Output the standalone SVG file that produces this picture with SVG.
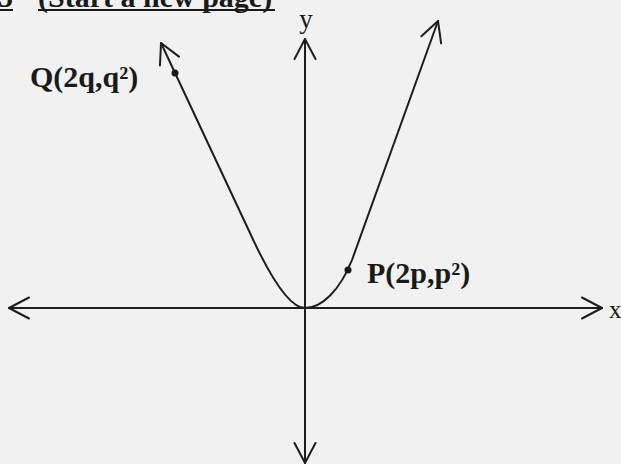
<svg xmlns="http://www.w3.org/2000/svg" width="621" height="464" viewBox="0 0 621 464">
<style>
.ln{fill:none;stroke:#1e1e1e;stroke-width:2;stroke-linecap:round;stroke-linejoin:round}
.lbl{font-family:"Liberation Serif","Times New Roman",serif;font-weight:bold;fill:#1a1a1a}
.ax{font-family:"Liberation Serif","Times New Roman",serif;fill:#1a1a1a}
.dot{fill:#1a1a1a}
</style>
<defs>
<marker id="arr" markerUnits="userSpaceOnUse" viewBox="-25 -14 30 28" refX="0" refY="0" markerWidth="30" markerHeight="28" orient="auto-start-reverse" overflow="visible">
<path d="M-20,-10.5 L0,0 L-20,10.5" fill="none" stroke="#1e1e1e" stroke-width="2" stroke-linecap="round" stroke-linejoin="round"/>
</marker>
</defs>
<rect width="621" height="464" fill="#f1f1f1"/>
<g id="title">
<text class="lbl" x="-2" y="7" font-size="30">5</text>
<line x1="0" y1="10" x2="13" y2="10" stroke="#1a1a1a" stroke-width="2"/>
<text class="lbl" x="38" y="7" font-size="30">(Start a new page)</text>
<line x1="38" y1="10" x2="275" y2="10" stroke="#1a1a1a" stroke-width="2"/>
</g>
<g id="connectors">
<line id="x-axis" class="ln" x1="9" y1="308" x2="602" y2="308" marker-start="url(#arr)" marker-end="url(#arr)"/>
<line id="y-axis" class="ln" x1="305" y1="39" x2="305" y2="463" marker-start="url(#arr)" marker-end="url(#arr)"/>
<path id="parabola" class="ln" d="M161,43 L250,233 C266,268 288,308 305,308 C322,308 340,290 352,260 L438,21" marker-start="url(#arr)" marker-end="url(#arr)"/>
</g>
<g id="axis-x-label"><text class="ax" x="609" y="318" font-size="25">x</text></g>
<g id="axis-y-label"><text class="ax" x="306" y="28" font-size="27" text-anchor="middle">y</text></g>
<g id="point-Q">
<circle class="dot" cx="175" cy="73" r="3.5"/>
<text class="lbl" x="30" y="87" font-size="30">Q(2q,q²)</text>
</g>
<g id="point-P">
<circle class="dot" cx="348" cy="270" r="3.5"/>
<text class="lbl" x="367" y="283" font-size="30">P(2p,p²)</text>
</g>
</svg>
